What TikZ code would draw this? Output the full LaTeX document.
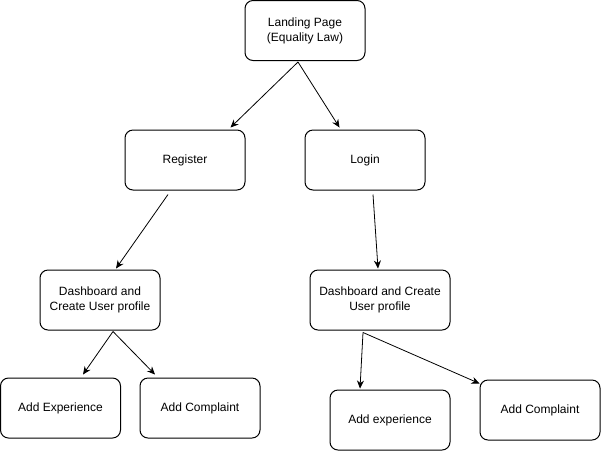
\documentclass[tikz,border=0pt]{standalone}
\usepackage{fontspec}
\setmainfont{Liberation Sans}
\usetikzlibrary{arrows.meta}
\begin{document}
\begin{tikzpicture}[x=1pt,y=-1pt,
  box/.style={draw,line width=1pt,rounded corners=8pt,minimum height=60pt,minimum width=120pt,align=center,inner sep=2pt,font=\fontsize{12}{15}\selectfont},
  arr/.style={line width=0.8pt,-{Stealth[length=8pt,width=7pt]}}]
\useasboundingbox (0,0) rectangle (601,451);
\fill[white] (0,0) rectangle (601,451);
\node[box] (land) at (305,30.5) {Landing Page\\(Equality Law)};
\node[box] (reg) at (185,160) {Register};
\node[box] (login) at (365,160) {Login};
\node[box] (dashL) at (100,300) {Dashboard and\\Create User profile};
\node[box,minimum width=140pt] (dashR) at (380,300) {Dashboard and Create\\User profile};
\node[box] (expL) at (60.5,408) {Add Experience};
\node[box] (compL) at (200,408) {Add Complaint};
\node[box] (expR) at (390,420) {Add experience};
\node[box] (compR) at (540,410) {Add Complaint};
\draw[arr] ([shift={(-7,1)}]land.south) -- ([shift={(-15,-2)}]reg.north east);
\draw[arr] ([shift={(-7,1)}]land.south) -- ([shift={(35,-2)}]login.north west);
\draw[arr] ([shift={(-17,4)}]reg.south) -- ([shift={(16,-1)}]dashL.north);
\draw[arr] ([shift={(8,4)}]login.south) -- ([shift={(-2,-1)}]dashR.north);
\draw[arr] ([shift={(13,1)}]dashL.south) -- ([shift={(22.5,-3)}]expL.north);
\draw[arr] ([shift={(13,1)}]dashL.south) -- ([shift={(-45,-3)}]compL.north);
\draw[arr] ([shift={(-17,2)}]dashR.south) -- ([shift={(-30,-1)}]expR.north);
\draw[arr] ([shift={(-17,2)}]dashR.south) -- ([shift={(0,4)}]compR.north west);
\end{tikzpicture}
\end{document}
